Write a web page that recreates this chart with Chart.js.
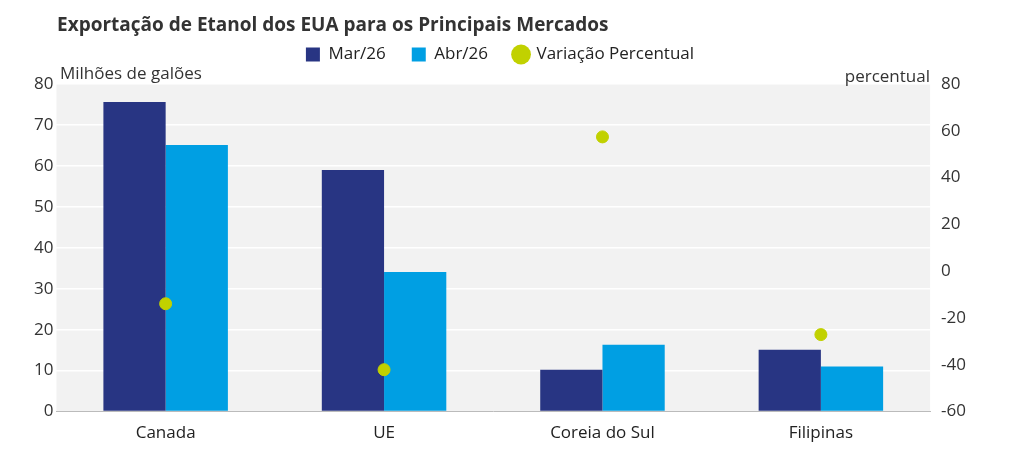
<!DOCTYPE html>
<html><head><meta charset="utf-8">
<script src="https://cdn.jsdelivr.net/npm/chart.js@4"></script>
<style>body{margin:0;background:#fff}#wrap{width:1011px;height:458px}</style>
</head><body><div id="wrap"><canvas id="myChart"></canvas></div>
<script>
const categories = ['Canada', 'UE', 'Coreia do Sul', 'Filipinas'];
const mar26 = [75.6, 59.0, 10.2, 15.1];
const abr26 = [65.1, 34.1, 16.3, 11.0];
const variacao = [-13.9, -42.1, 57.4, -27.1];

const font = "'Open Sans', sans-serif";

const extras = {
    id: 'extras',
    beforeInit(chart) {
        const lg = chart.legend;
        const fit = lg.fit;
        lg.fit = function () { fit.call(lg); lg.height += 11; };
    },
    beforeDraw(chart) {
        const c = chart.ctx, a = chart.chartArea;
        c.save();
        c.fillStyle = '#f2f2f2';
        c.fillRect(a.left, a.top, a.right - a.left, a.bottom - a.top);
        c.restore();
    },
    afterDraw(chart) {
        const c = chart.ctx;
        c.save();
        c.fillStyle = '#333';
        c.textAlign = 'left';
        c.font = 'bold 19px ' + font;
        c.fillText('Exportação de Etanol dos EUA para os Principais Mercados', 57, 26);
        c.font = '17px ' + font;
        c.fillText('Milhões de galões', 60, 74);
        c.textAlign = 'right';
        c.fillText('percentual', 930, 77);
        c.restore();
    }
};

const ctx = document.getElementById('myChart').getContext('2d');
const myChart = new Chart(ctx, {
    type: 'bar',
    data: {
        labels: categories,
        datasets: [
            { label: 'Mar/26', data: mar26, backgroundColor: '#283583', yAxisID: 'y', order: 2 },
            { label: 'Abr/26', data: abr26, backgroundColor: '#009fe3', yAxisID: 'y', order: 2 },
            { label: 'Variação Percentual', type: 'line', data: variacao, yAxisID: 'y1',
              showLine: false, pointRadius: 6, pointHoverRadius: 6,
              backgroundColor: '#c1d100', borderColor: '#c1d100', order: 1 }
        ]
    },
    options: {
        responsive: true,
        maintainAspectRatio: false,
        animation: false,
        layout: { padding: { left: 31, right: 42, top: 20, bottom: 12 } },
        datasets: { bar: { categoryPercentage: 0.57, barPercentage: 1 } },
        plugins: {
            legend: { labels: { color: '#222', font: { family: font, size: 17 }, boxWidth: 14, boxHeight: 14,
                                padding: 26,
                                sort: (a, b) => a.datasetIndex - b.datasetIndex,
                                generateLabels(chart) {
                                    const l = Chart.defaults.plugins.legend.labels.generateLabels(chart);
                                    l.forEach(i => { i.pointStyle = i.datasetIndex === 2 ? 'circle' : 'rect'; i.lineWidth = 0; });
                                    return l;
                                }, usePointStyle: true },
                      padding: 0 },
            tooltip: { enabled: false }
        },
        scales: {
            x: {
                grid: { display: false, offset: true },
                border: { color: '#bbb' },
                ticks: { color: '#222', font: { family: font, size: 17 } }
            },
            y: {
                position: 'left', min: 0, max: 80,
                ticks: { stepSize: 10, color: '#333', font: { family: font, size: 17 } },
                grid: { color: '#ffffff', lineWidth: 1.5, drawTicks: false },
                border: { display: false }
            },
            y1: {
                position: 'right', min: -60, max: 80,
                ticks: { stepSize: 20, color: '#333', font: { family: font, size: 17 } },
                grid: { display: false },
                border: { display: false }
            }
        }
    },
    plugins: [extras]
});
</script></body></html>
